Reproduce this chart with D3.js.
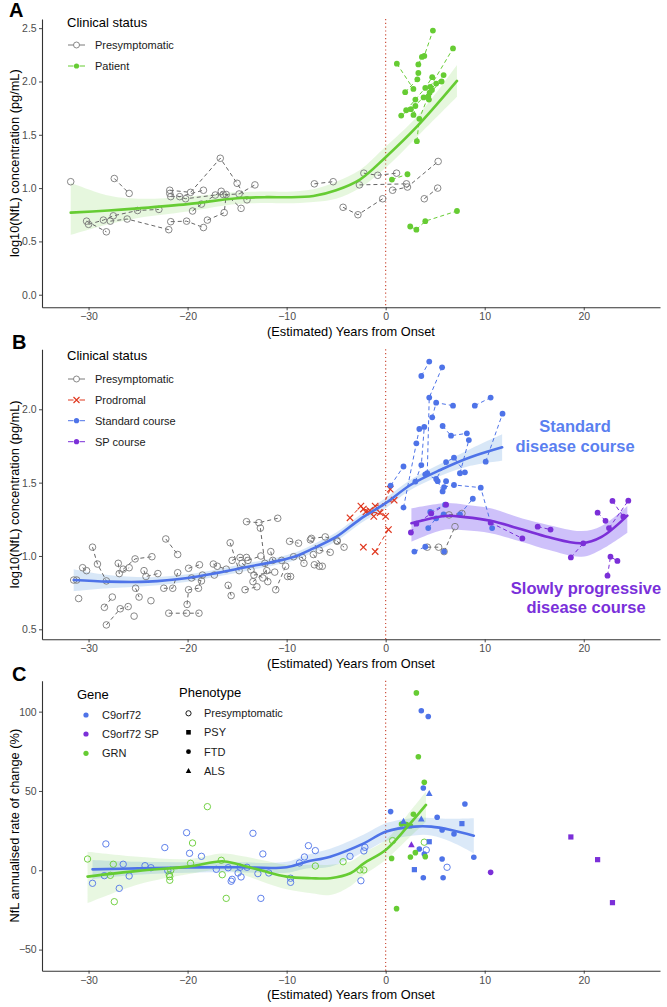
<!DOCTYPE html>
<html><head><meta charset="utf-8">
<script src="https://cdn.jsdelivr.net/npm/d3@7"></script>
<style>body{margin:0;background:#fff}svg{display:block}text{font-family:"Liberation Sans",Arial,Helvetica,sans-serif}</style>
</head><body><svg id="c" width="667" height="1007"></svg>
<script>
// ---------------- DATA ----------------
const xTicks = [-30, -20, -10, 0, 10, 20];
const aYTicks = [0, 0.5, 1.0, 1.5, 2.0, 2.5];
const bYTicks = [0.5, 1.0, 1.5, 2.0];
const cYTicks = [-50, 0, 50, 100];

// Panel A: subjects as [years, log10 NfL]
const aPresymp = [
 [[-31.8,1.06]],
 [[-30.2,0.69],[-28.2,0.59]],
 [[-30.0,0.66],[-28.5,0.70],[-27.5,0.74],[-25.05,0.79],[-22.9,0.80]],
 [[-27.8,0.69],[-26.1,0.71],[-21.9,0.61]],
 [[-27.4,1.09],[-25.9,0.95]],
 [[-21.8,0.98],[-19.7,0.96],[-16.7,1.28],[-15.0,1.045],[-14.0,0.89]],
 [[-21.8,0.95],[-20.2,0.90],[-17.2,0.935],[-14.8,0.945],[-13.2,1.03]],
 [[-21.7,0.92],[-20.8,0.92],[-18.4,0.98]],
 [[-21.7,0.685],[-20.1,0.69],[-18.4,0.63]],
 [[-18.0,0.70],[-16.3,0.77],[-16.1,0.94],[-14.6,0.81]],
 [[-19.5,0.785],[-18.6,0.85],[-16.6,0.97],[-16.4,0.94]],
 [[-7.2,1.04],[-5.3,1.06]],
 [[-2.2,1.14],[-0.8,1.12],[1.1,1.14]],
 [[-2.65,1.03],[2.1,1.04]],
 [[0.7,0.98],[2.2,1.01],[5.3,1.25]],
 [[3.9,0.90],[5.25,1.0]],
 [[-4.3,0.82],[-2.8,0.75],[-0.3,0.90]]
];
const aPatient = [
 [[1.13,2.167],[2.8,1.93]],
 [[3.3,2.16],[3.66,2.23],[3.9,2.24],[4.77,2.477]],
 [[4.5,1.95],[6.8,2.31]],
 [[1.97,1.90],[3.2,2.02],[3.3,2.08]],
 [[1.57,1.68],[2.55,1.74],[3.83,1.85],[5.1,1.98],[5.85,2.06]],
 [[2.07,1.73],[3.0,1.83],[4.0,1.94],[4.7,2.04]],
 [[2.81,1.686],[3.0,1.77]],
 [[3.15,1.44],[3.4,1.65],[4.44,1.895],[5.65,2.0]],
 [[0.63,1.08],[2.2,1.13]],
 [[2.48,0.64],[3.1,0.61],[4.0,0.69],[7.2,0.785]],
 [[4.3,1.86],[4.37,1.83],[4.67,1.92]]
];
// fit: [years, fit, lower, upper]
const aFit = [[-31.8,0.77,0.56,1.05],[-28,0.79,0.66,0.93],[-25,0.81,0.72,0.90],[-20,0.85,0.78,0.92],[-15,0.905,0.85,0.96],[-12,0.915,0.86,0.967],[-10,0.914,0.857,0.966],[-7.3,0.926,0.87,0.99],[-5,0.98,0.9,1.06],[-2.6,1.08,1.0,1.17],[0,1.29,1.19,1.39],[3.15,1.576,1.48,1.67],[7.2,2.005,1.857,2.155]];

// Panel B
const bPresymp = [
 [[-31.5,0.836],[-31.2,0.836]],
 [[-31.0,0.71]],
 [[-30.6,0.92],[-30.2,0.90]],
 [[-29.6,1.06],[-29.1,0.945],[-28.2,0.83]],
 [[-28.4,0.65],[-27.6,0.72]],
 [[-28.2,0.53],[-26.8,0.64],[-26.0,0.655]],
 [[-27.0,0.95],[-26.9,0.88],[-25.9,0.92]],
 [[-26.5,0.91],[-25.3,0.98],[-23.6,0.995]],
 [[-25.4,0.59]],
 [[-25.25,0.78],[-24.9,0.72]],
 [[-24.4,0.90],[-24.2,0.86],[-23.0,0.88]],
 [[-23.7,0.695]],
 [[-22.2,1.116],[-21.0,1.01]],
 [[-22.4,0.78],[-21.5,0.78],[-21.0,0.886]],
 [[-21.9,0.61],[-20.1,0.61],[-18.85,0.61]],
 [[-20.05,0.67],[-19.9,0.77],[-18.9,0.78],[-18.5,0.87]],
 [[-19.9,0.916],[-18.8,0.94]],
 [[-19.6,0.85],[-18.6,0.83]],
 [[-17.4,0.945],[-17.0,0.93],[-16.1,0.91]],
 [[-17.3,0.87]],
 [[-15.7,1.09],[-14.8,0.90]],
 [[-15.9,0.80],[-15.6,0.73]],
 [[-15.5,0.97],[-14.7,0.99],[-14.05,0.99]],
 [[-13.9,0.97],[-12.6,1.0]],
 [[-14.05,1.234],[-12.8,1.227],[-10.9,1.257]],
 [[-12.65,1.19],[-12.2,0.95],[-11.9,0.825]],
 [[-14.5,0.95],[-13.6,0.905],[-12.4,0.85]],
 [[-13.4,0.825],[-12.0,0.90]],
 [[-13.3,0.87],[-11.2,0.89]],
 [[-14.2,0.77],[-13.0,0.79]],
 [[-11.6,1.03],[-11.4,0.97],[-10.5,0.97]],
 [[-11.1,0.77],[-10.1,0.93]],
 [[-9.9,0.86],[-9.6,0.86]],
 [[-9.7,1.10],[-8.8,1.087]],
 [[-9.3,0.995],[-8.4,0.99],[-8.25,0.95]],
 [[-7.6,1.11],[-6.7,1.04],[-5.6,1.025]],
 [[-7.5,1.12],[-6.1,1.13],[-4.9,1.105]],
 [[-7.3,1.01],[-6.4,0.93]],
 [[-7.2,0.94],[-6.7,0.93]],
 [[-4.9,1.10],[-4.2,1.06]],
 [[4.2,1.06],[5.35,1.06]],
 [[6.4,1.28],[7.7,1.29]],
 [[5.9,1.03],[7.0,1.20]]
];
const bProdromal = [
 [[-3.6,1.26],[-2.5,1.34],[-1.2,1.27]],
 [[-2.25,1.32],[-1.6,1.31],[0.0,1.27]],
 [[-2.0,1.30],[-0.56,1.295],[0.46,1.455]],
 [[-1.06,1.34],[0.86,1.38]],
 [[-1.06,1.03],[0.28,1.18]],
 [[-2.25,1.06]]
];
const bStandard = [
 [[3.6,2.227],[4.4,2.325]],
 [[4.2,1.564],[4.4,2.08],[5.7,2.286]],
 [[4.7,1.945],[5.1,2.045],[6.8,2.025]],
 [[9.0,2.025],[10.6,2.08]],
 [[10.1,1.643],[11.8,1.97]],
 [[5.75,1.886],[6.6,1.82],[8.2,1.836]],
 [[7.5,1.564],[8.4,1.79]],
 [[3.0,1.507],[3.6,1.62],[3.9,1.88]],
 [[1.8,1.33],[3.1,1.768],[3.4,1.866]],
 [[0.5,1.48],[1.8,1.61]],
 [[4.0,1.557],[5.1,1.525],[6.1,1.64],[6.9,1.67],[8.0,1.57]],
 [[5.25,1.51],[5.75,1.44],[6.1,1.51]],
 [[5.9,1.47],[6.9,1.484],[9.6,1.466],[10.75,1.19]],
 [[4.3,1.19],[5.1,1.257],[5.85,1.284]],
 [[4.5,1.30],[6.0,1.35]],
 [[7.5,1.284],[8.8,1.39]],
 [[2.9,1.03],[4.0,1.063]],
 [[5.9,1.03]]
];
const bSlow = [
 [[2.55,1.16],[3.1,1.22],[4.6,1.29],[6.1,1.35]],
 [[10.6,1.227],[13.8,1.12]],
 [[15.35,1.20],[16.65,1.18]],
 [[18.7,0.99],[19.95,1.086]],
 [[21.4,1.295],[22.2,1.24]],
 [[22.55,1.19],[24.5,1.377]],
 [[22.9,1.375],[24.0,1.268]],
 [[22.4,0.866],[22.7,0.995],[23.4,0.966]]
];
const bStdFit = [[-31.5,0.836,0.76,0.91],[-28,0.825,0.78,0.87],[-24,0.825,0.795,0.855],[-20,0.85,0.825,0.875],[-17,0.885,0.86,0.91],[-14,0.925,0.90,0.95],[-11,0.965,0.94,0.99],[-9,1.0,0.975,1.027],[-7.3,1.052,1.025,1.08],[-5,1.13,1.1,1.16],[-2.6,1.25,1.22,1.28],[0,1.36,1.325,1.395],[2.5,1.484,1.45,1.52],[5.5,1.586,1.545,1.627],[8.55,1.673,1.615,1.73],[11.76,1.741,1.65,1.83]];
const bSlowFit = [[2.6,1.223,1.097,1.325],[6.0,1.273,1.18,1.36],[8.0,1.265,1.175,1.35],[10.6,1.24,1.155,1.325],[13.8,1.18,1.095,1.255],[16.5,1.127,1.04,1.21],[19.8,1.087,0.995,1.17],[21.8,1.13,1.045,1.205],[24.4,1.275,1.159,1.341]];

// Panel C: [years, annualised % change]
const cC9Presymp = [[-29.6,-8.2],[-28.25,16.6],[-28.4,-3.4],[-26.5,3.8],[-26.9,-11.4],[-25.9,-3.6],[-24.3,2.9],[-23.7,1.6],[-22.3,14.3],[-22.0,-0.2],[-20.1,23.7],[-19.8,10.7],[-18.6,8.8],[-17.1,0.6],[-15.9,1.6],[-15.6,-6.9],[-15.5,-5.7],[-14.9,-1.7],[-14.7,1.9],[-14.6,-4.2],[-14.0,1.9],[-13.4,23.3],[-12.9,-2.1],[-12.6,-17.7],[-12.4,10.3],[-11.8,-1.7],[-9.6,-5.0],[-9.6,-7.6],[-8.7,4.6],[-8.2,8.4],[-7.8,15.5],[-7.1,12.4],[-3.6,8.8],[-2.1,14.5],[-2.2,12.2],[-2.5,-6.6],[4.1,12.8],[6.2,1.9]];
const cGrnPresymp = [[-30.1,7.1],[-27.8,-3.2],[-27.5,3.8],[-27.4,-19.8],[-21.7,0],[-21.85,-2.8],[-21.8,-4.0],[-21.8,-6.3],[-19.7,4.4],[-19.5,17.2],[-18.0,40.1],[-16.6,6.3],[-16.5,-2.8],[-16.1,-17.7],[-7.1,2.7],[-4.3,5.4],[-2.6,0.2],[-2.2,0.2],[0.7,18.7],[3.9,17.7]];
const cC9FTD = [[3.6,100.6],[4.3,96.9],[3.8,51.9],[8.0,41.8],[0.5,37.0],[5.2,33.4],[5.7,25.4],[6.9,22.9],[3.4,13.4],[3.9,10.3],[5.7,7.1],[8.9,8.2],[3.8,-4.7],[5.8,-4.7]];
const cGrnFTD = [[3.1,111.8],[3.3,71.6],[3.9,55.5],[2.8,35.3],[1.6,29.2],[2.1,28.8],[2.5,28.1],[3.0,11.1],[2.5,8.4],[4.0,8.6],[0.6,7.5],[1.1,-24.2]];
const cSPFTD = [[10.6,-1.3]];
const cC9PSY = [[7.7,29.4],[4.4,18.0],[2.9,0.4]];
const cSPPSY = [[18.7,21.0],[21.4,6.7],[22.9,-20.4]];
const cC9ALS = [[4.4,48.3],[3.6,32.3],[1.8,30.9]];
const cSPALS = [[2.6,16.1]];
const cC9Fit = [[-29.6,0.6,-5.5,6.5],[-25,1.2,-2.8,5.3],[-20,1.8,-1.5,5],[-15,1.9,-1.2,5],[-10,1.9,-1.5,5.3],[-8,5.4,1.2,9.6],[-5.6,8.6,2.3,13.5],[-2.2,17,11.5,22.5],[0,24.3,18.5,29.6],[2.9,27.5,22,33],[4.6,27.5,22,33],[6.6,25.4,18,32.5],[8.9,21.8,10.7,32.8]];
const cGrnFit = [[-30.1,-4.0,-20.8,11.7],[-25,-0.4,-9,8.5],[-20,2.3,-2.5,7],[-16.5,5.7,0.5,10.5],[-15,4.0,-1.5,9.5],[-12.5,-0.2,-7,6.5],[-10,-4.0,-12,3.5],[-7.5,-5.0,-14.5,3.5],[-5.6,-5.0,-15.6,3.5],[-3.56,-1.9,-10,5.5],[-2.2,4.4,-3,11],[0,12.8,6.5,19.1],[2.2,27.5,19.5,35],[4.07,41.2,30.6,49.6]];

// ---------------- STYLE ----------------
const GREEN = "#66cc33", BLUE = "#4e73e8", PURPLE = "#7b2fd8", RED = "#e0381f", GREY = "#7a7a7a";
const X_DOMAIN = [-34.7, 27.7];
const svg = d3.select("#c");
const FONT = '"Liberation Sans",Arial,Helvetica,sans-serif';

function setupPanel(o) {
  const x = d3.scaleLinear().domain(X_DOMAIN).range([42, 660]);
  const y = d3.scaleLinear().domain(o.yDomain).range([o.bottom, o.top]);
  const g = svg.append("g");
  const gx = g.append("g").attr("transform", `translate(0,${o.bottom})`)
    .call(d3.axisBottom(x).tickValues(xTicks).tickSize(3).tickSizeOuter(0).tickPadding(2.5).tickFormat(d3.format("d")));
  const gy = g.append("g").attr("transform", "translate(42,0)")
    .call(d3.axisLeft(y).tickValues(o.yTicks).tickSize(3).tickSizeOuter(0).tickPadding(2.3).tickFormat(o.fmt));
  [gx, gy].forEach(a => {
    a.select(".domain").attr("stroke", "#333").attr("stroke-width", 1.1);
    a.selectAll(".tick line").attr("stroke", "#333").attr("stroke-width", 0.9);
    a.selectAll(".tick text").attr("fill", "#4d4d4d").attr("font-size", 10.5).attr("font-family", FONT);
  });
  g.append("text").attr("x", 351).attr("y", o.bottom + 28.2).attr("text-anchor", "middle")
    .attr("font-size", 12.8).attr("fill", "#000").text("(Estimated) Years from Onset");
  g.append("text").attr("transform", `translate(18.5,${(o.top + o.bottom) / 2}) rotate(-90)`)
    .attr("text-anchor", "middle").attr("font-size", 12.8).attr("fill", "#000").text(o.yTitle);
  g.append("text").attr("x", o.lx).attr("y", o.ly).attr("font-size", 20).attr("font-weight", "bold").text(o.label);
  // onset line
  g.append("line").attr("x1", x(0)).attr("x2", x(0)).attr("y1", o.top).attr("y2", o.bottom)
    .attr("stroke", "#c8402a").attr("stroke-width", 1.1).attr("stroke-dasharray", "1.2,2.6");
  return { g, x, y };
}

function band(p, data, fill, op) {
  p.g.append("path").datum(data)
    .attr("d", d3.area().x(d => p.x(d[0])).y0(d => p.y(d[2])).y1(d => p.y(d[3])).curve(d3.curveCatmullRom))
    .attr("fill", fill).attr("fill-opacity", op).attr("stroke", "none");
}
function fitLine(p, data, color, w) {
  p.g.append("path").datum(data)
    .attr("d", d3.line().x(d => p.x(d[0])).y(d => p.y(d[1])).curve(d3.curveCatmullRom))
    .attr("fill", "none").attr("stroke", color).attr("stroke-width", w || 2.6).attr("stroke-linecap", "round");
}
function marker(g, type, cx, cy, color, s) {
  s = s || 3.2;
  if (type === "open") g.append("circle").attr("cx", cx).attr("cy", cy).attr("r", s).attr("fill", "none").attr("stroke", color).attr("stroke-width", 0.9);
  else if (type === "dot") g.append("circle").attr("cx", cx).attr("cy", cy).attr("r", s).attr("fill", color);
  else if (type === "x") {
    g.append("path").attr("d", `M${cx - s},${cy - s}L${cx + s},${cy + s}M${cx - s},${cy + s}L${cx + s},${cy - s}`)
      .attr("stroke", color).attr("stroke-width", 1.2).attr("fill", "none");
  } else if (type === "square") g.append("rect").attr("x", cx - s).attr("y", cy - s).attr("width", 2 * s).attr("height", 2 * s).attr("fill", color);
  else if (type === "tri") g.append("path").attr("d", `M${cx},${cy - s * 1.2}L${cx + s * 1.1},${cy + s * 0.8}L${cx - s * 1.1},${cy + s * 0.8}Z`).attr("fill", color);
}
function subjects(p, groups, color, type, lineColor) {
  const line = d3.line().x(d => p.x(d[0])).y(d => p.y(d[1]));
  groups.forEach(gr => {
    if (gr.length > 1) p.g.append("path").datum(gr).attr("d", line).attr("fill", "none")
      .attr("stroke", lineColor || color).attr("stroke-width", 1).attr("stroke-dasharray", "4,3");
  });
  groups.forEach(gr => gr.forEach(d => marker(p.g, type, p.x(d[0]), p.y(d[1]), color, type === "dot" ? 2.9 : type === "x" ? 3.2 : 3.3)));
}
function points(p, arr, color, type, s) {
  arr.forEach(d => marker(p.g, type, p.x(d[0]), p.y(d[1]), color, s));
}
function legendKey(g, x, y, color, type, label) {
  g.append("line").attr("x1", x).attr("x2", x + 5.5).attr("y1", y).attr("y2", y).attr("stroke", color).attr("stroke-width", 1);
  g.append("line").attr("x1", x + 11.5).attr("x2", x + 17).attr("y1", y).attr("y2", y).attr("stroke", color).attr("stroke-width", 1);
  marker(g, type, x + 8.5, y, color, type === "dot" ? 2.6 : 3);
  g.append("text").attr("x", x + 27).attr("y", y + 4).attr("font-size", 11).attr("fill", "#1a1a1a").text(label);
}

// ---------------- PANEL A ----------------
const A = setupPanel({ top: 19, bottom: 307.3, yDomain: [-0.118, 2.586], yTicks: aYTicks, fmt: d3.format(".1f"),
  yTitle: "log10(NfL) concentration (pg/mL)", label: "A", lx: 9, ly: 17 });
band(A, aFit, GREEN, 0.16);
subjects(A, aPresymp, GREY, "open", "#666");
subjects(A, aPatient, GREEN, "dot");
fitLine(A, aFit, GREEN);
A.g.append("text").attr("x", 67).attr("y", 26.5).attr("font-size", 13).text("Clinical status");
legendKey(A.g, 68, 45, GREY, "open", "Presymptomatic");
legendKey(A.g, 68, 66, GREEN, "dot", "Patient");

// ---------------- PANEL B ----------------
const B = setupPanel({ top: 349.3, bottom: 639.3, yDomain: [0.432, 2.409], yTicks: bYTicks, fmt: d3.format(".1f"),
  yTitle: "log10(NfL) concentration (pg/mL)", label: "B", lx: 12, ly: 348.5 });
band(B, bStdFit, "#7fb0e6", 0.3);
band(B, bSlowFit, "#7d5cf2", 0.38);
subjects(B, bPresymp, GREY, "open", "#666");
subjects(B, bProdromal, RED, "x");
subjects(B, bStandard, BLUE, "dot");
subjects(B, bSlow, PURPLE, "dot");
fitLine(B, bStdFit, BLUE);
fitLine(B, bSlowFit, PURPLE);
B.g.append("text").attr("x", 67).attr("y", 360).attr("font-size", 13).text("Clinical status");
legendKey(B.g, 68, 379, GREY, "open", "Presymptomatic");
legendKey(B.g, 68, 400, RED, "x", "Prodromal");
legendKey(B.g, 68, 420.7, BLUE, "dot", "Standard course");
legendKey(B.g, 68, 441.7, PURPLE, "dot", "SP course");
const annS = B.g.append("text").attr("text-anchor", "middle").attr("font-size", 16.5).attr("font-weight", "bold").attr("fill", "#5a80f0");
annS.append("tspan").attr("x", 575).attr("y", 431.7).text("Standard");
annS.append("tspan").attr("x", 575).attr("y", 451.7).text("disease course");
const annP = B.g.append("text").attr("text-anchor", "middle").attr("font-size", 16.5).attr("font-weight", "bold").attr("fill", "#7a30da");
annP.append("tspan").attr("x", 586).attr("y", 593.5).text("Slowly progressive");
annP.append("tspan").attr("x", 586).attr("y", 612.5).text("disease course");

// ---------------- PANEL C ----------------
const C = setupPanel({ top: 680.7, bottom: 970.7, yDomain: [-63.3, 119.5], yTicks: cYTicks, fmt: d3.format("d"),
  yTitle: "NfL annualised rate of change (%)", label: "C", lx: 12, ly: 680.5 });
band(C, cC9Fit, "#7fb0e6", 0.28);
band(C, cGrnFit, GREEN, 0.15);
points(C, cC9Presymp, BLUE, "open", 3.2);
points(C, cGrnPresymp, GREEN, "open", 3.2);
points(C, cC9FTD, BLUE, "dot", 2.8);
points(C, cGrnFTD, GREEN, "dot", 2.8);
points(C, cSPFTD, PURPLE, "dot", 2.8);
points(C, cC9PSY, BLUE, "square", 2.6);
points(C, cSPPSY, PURPLE, "square", 2.6);
points(C, cC9ALS, BLUE, "tri", 3);
points(C, cSPALS, PURPLE, "tri", 3);
fitLine(C, cC9Fit, BLUE);
fitLine(C, cGrnFit, GREEN);
C.g.append("text").attr("x", 77).attr("y", 699).attr("font-size", 13).text("Gene");
[["C9orf72", BLUE, 715], ["C9orf72 SP", PURPLE, 734], ["GRN", GREEN, 753.3]].forEach(([t, c, yy]) => {
  marker(C.g, "dot", 86, yy, c, 2.6);
  C.g.append("text").attr("x", 102).attr("y", yy + 4).attr("font-size", 11).attr("fill", "#1a1a1a").text(t);
});
C.g.append("text").attr("x", 179).attr("y", 697).attr("font-size", 13).text("Phenotype");
[["Presymptomatic", "open", 713.3], ["PSY", "square", 732.3], ["FTD", "dot", 751.7], ["ALS", "tri", 771]].forEach(([t, ty, yy]) => {
  marker(C.g, ty, 188.5, yy, "#000", ty === "open" ? 2.6 : ty === "square" ? 2.3 : ty === "tri" ? 2.5 : 2.4);
  C.g.append("text").attr("x", 204).attr("y", yy + 4).attr("font-size", 11).attr("fill", "#1a1a1a").text(t);
});
</script></body></html>
